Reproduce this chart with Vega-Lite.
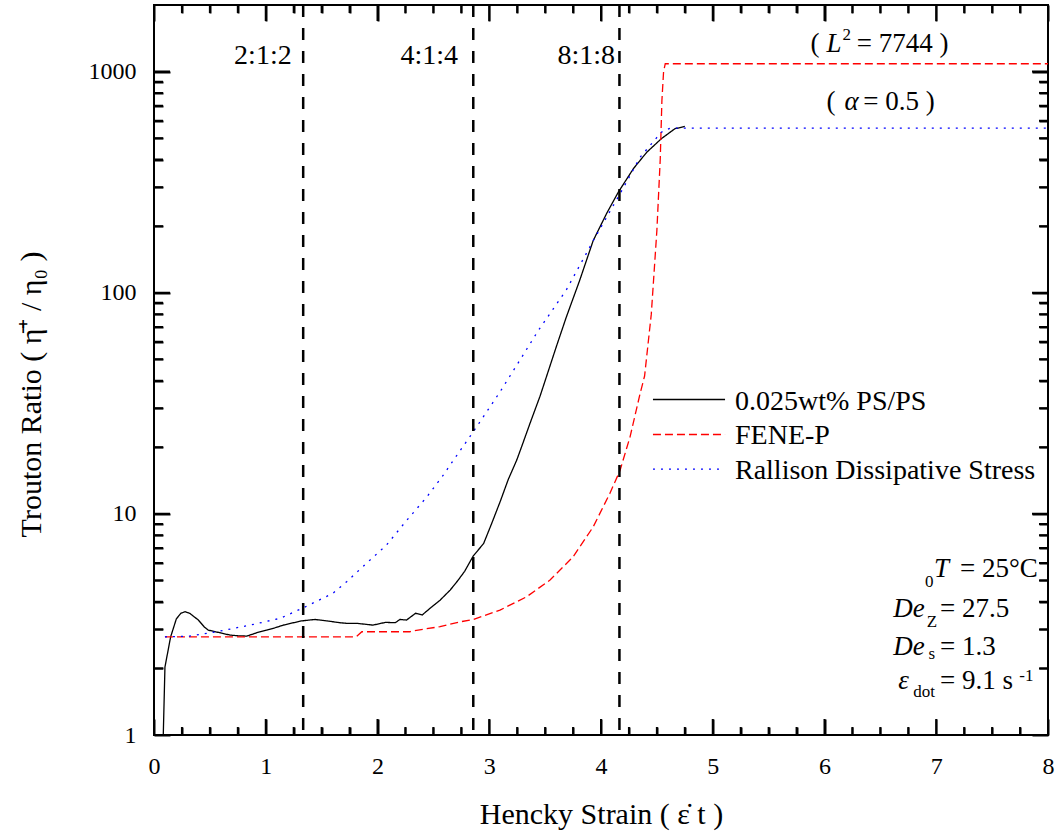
{
  "$schema": "https://vega.github.io/schema/vega-lite/v6.json",
  "width": 894,
  "height": 730,
  "autosize": "none",
  "padding": {"left": 154, "top": 5, "right": 9, "bottom": 103},
  "background": "white",
  "config": {"view": {"stroke": "black", "strokeWidth": 2}, "font": "Liberation Serif"},
  "datasets": {
    "series": [
      {"s": "0.025wt% PS/PS", "x": 0.083, "y": 1.0},
      {"s": "0.025wt% PS/PS", "x": 0.098, "y": 2.03},
      {"s": "0.025wt% PS/PS", "x": 0.149, "y": 2.78},
      {"s": "0.025wt% PS/PS", "x": 0.2, "y": 3.35},
      {"s": "0.025wt% PS/PS", "x": 0.24, "y": 3.55},
      {"s": "0.025wt% PS/PS", "x": 0.277, "y": 3.61},
      {"s": "0.025wt% PS/PS", "x": 0.32, "y": 3.55},
      {"s": "0.025wt% PS/PS", "x": 0.397, "y": 3.31},
      {"s": "0.025wt% PS/PS", "x": 0.45, "y": 3.08},
      {"s": "0.025wt% PS/PS", "x": 0.486, "y": 2.98},
      {"s": "0.025wt% PS/PS", "x": 0.59, "y": 2.9},
      {"s": "0.025wt% PS/PS", "x": 0.68, "y": 2.83},
      {"s": "0.025wt% PS/PS", "x": 0.75, "y": 2.81},
      {"s": "0.025wt% PS/PS", "x": 0.83, "y": 2.8},
      {"s": "0.025wt% PS/PS", "x": 0.92, "y": 2.9},
      {"s": "0.025wt% PS/PS", "x": 1.01, "y": 2.98},
      {"s": "0.025wt% PS/PS", "x": 1.08, "y": 3.05},
      {"s": "0.025wt% PS/PS", "x": 1.157, "y": 3.14},
      {"s": "0.025wt% PS/PS", "x": 1.25, "y": 3.22},
      {"s": "0.025wt% PS/PS", "x": 1.32, "y": 3.28},
      {"s": "0.025wt% PS/PS", "x": 1.44, "y": 3.33},
      {"s": "0.025wt% PS/PS", "x": 1.55, "y": 3.28},
      {"s": "0.025wt% PS/PS", "x": 1.66, "y": 3.22},
      {"s": "0.025wt% PS/PS", "x": 1.72, "y": 3.2},
      {"s": "0.025wt% PS/PS", "x": 1.81, "y": 3.2},
      {"s": "0.025wt% PS/PS", "x": 1.96, "y": 3.14},
      {"s": "0.025wt% PS/PS", "x": 2.07, "y": 3.23},
      {"s": "0.025wt% PS/PS", "x": 2.16, "y": 3.22},
      {"s": "0.025wt% PS/PS", "x": 2.2, "y": 3.33},
      {"s": "0.025wt% PS/PS", "x": 2.26, "y": 3.31},
      {"s": "0.025wt% PS/PS", "x": 2.34, "y": 3.55},
      {"s": "0.025wt% PS/PS", "x": 2.4, "y": 3.49},
      {"s": "0.025wt% PS/PS", "x": 2.47, "y": 3.74},
      {"s": "0.025wt% PS/PS", "x": 2.56, "y": 4.07},
      {"s": "0.025wt% PS/PS", "x": 2.65, "y": 4.52},
      {"s": "0.025wt% PS/PS", "x": 2.72, "y": 5.0},
      {"s": "0.025wt% PS/PS", "x": 2.78, "y": 5.5},
      {"s": "0.025wt% PS/PS", "x": 2.857, "y": 6.45},
      {"s": "0.025wt% PS/PS", "x": 2.95, "y": 7.35},
      {"s": "0.025wt% PS/PS", "x": 3.02, "y": 9.0},
      {"s": "0.025wt% PS/PS", "x": 3.096, "y": 11.3},
      {"s": "0.025wt% PS/PS", "x": 3.17, "y": 14.3},
      {"s": "0.025wt% PS/PS", "x": 3.246, "y": 17.5},
      {"s": "0.025wt% PS/PS", "x": 3.3, "y": 20.8},
      {"s": "0.025wt% PS/PS", "x": 3.364, "y": 25.6},
      {"s": "0.025wt% PS/PS", "x": 3.454, "y": 34.0},
      {"s": "0.025wt% PS/PS", "x": 3.5, "y": 40.0},
      {"s": "0.025wt% PS/PS", "x": 3.6, "y": 57},
      {"s": "0.025wt% PS/PS", "x": 3.69, "y": 77.7},
      {"s": "0.025wt% PS/PS", "x": 3.81, "y": 114},
      {"s": "0.025wt% PS/PS", "x": 3.93, "y": 172},
      {"s": "0.025wt% PS/PS", "x": 4.05, "y": 228},
      {"s": "0.025wt% PS/PS", "x": 4.155, "y": 285},
      {"s": "0.025wt% PS/PS", "x": 4.29, "y": 364},
      {"s": "0.025wt% PS/PS", "x": 4.41, "y": 432},
      {"s": "0.025wt% PS/PS", "x": 4.54, "y": 497},
      {"s": "0.025wt% PS/PS", "x": 4.66, "y": 551},
      {"s": "0.025wt% PS/PS", "x": 4.75, "y": 565},
      {"s": "FENE-P", "x": 0.098, "y": 2.78},
      {"s": "FENE-P", "x": 1.81, "y": 2.78},
      {"s": "FENE-P", "x": 1.86, "y": 2.93},
      {"s": "FENE-P", "x": 2.29, "y": 2.93},
      {"s": "FENE-P", "x": 2.32, "y": 2.96},
      {"s": "FENE-P", "x": 2.56, "y": 3.09},
      {"s": "FENE-P", "x": 2.74, "y": 3.25},
      {"s": "FENE-P", "x": 2.857, "y": 3.33},
      {"s": "FENE-P", "x": 3.096, "y": 3.67},
      {"s": "FENE-P", "x": 3.335, "y": 4.22},
      {"s": "FENE-P", "x": 3.544, "y": 5.02},
      {"s": "FENE-P", "x": 3.75, "y": 6.39},
      {"s": "FENE-P", "x": 3.93, "y": 8.73},
      {"s": "FENE-P", "x": 4.08, "y": 12.4},
      {"s": "FENE-P", "x": 4.17, "y": 15.7},
      {"s": "FENE-P", "x": 4.26, "y": 22.3},
      {"s": "FENE-P", "x": 4.35, "y": 35.0},
      {"s": "FENE-P", "x": 4.39, "y": 42},
      {"s": "FENE-P", "x": 4.45, "y": 80},
      {"s": "FENE-P", "x": 4.5, "y": 191},
      {"s": "FENE-P", "x": 4.53, "y": 400},
      {"s": "FENE-P", "x": 4.545, "y": 740},
      {"s": "FENE-P", "x": 4.56, "y": 1000},
      {"s": "FENE-P", "x": 4.575, "y": 1085},
      {"s": "FENE-P", "x": 8.0, "y": 1085},
      {"s": "Rallison Dissipative Stress", "x": 0.098, "y": 2.78},
      {"s": "Rallison Dissipative Stress", "x": 0.32, "y": 2.8},
      {"s": "Rallison Dissipative Stress", "x": 0.59, "y": 2.95},
      {"s": "Rallison Dissipative Stress", "x": 0.86, "y": 3.14},
      {"s": "Rallison Dissipative Stress", "x": 1.13, "y": 3.37},
      {"s": "Rallison Dissipative Stress", "x": 1.336, "y": 3.76},
      {"s": "Rallison Dissipative Stress", "x": 1.6, "y": 4.37},
      {"s": "Rallison Dissipative Stress", "x": 1.724, "y": 4.93},
      {"s": "Rallison Dissipative Stress", "x": 1.9, "y": 5.97},
      {"s": "Rallison Dissipative Stress", "x": 2.08, "y": 7.22},
      {"s": "Rallison Dissipative Stress", "x": 2.25, "y": 9.2},
      {"s": "Rallison Dissipative Stress", "x": 2.44, "y": 11.9},
      {"s": "Rallison Dissipative Stress", "x": 2.59, "y": 15.0},
      {"s": "Rallison Dissipative Stress", "x": 2.68, "y": 17.5},
      {"s": "Rallison Dissipative Stress", "x": 2.857, "y": 23.5},
      {"s": "Rallison Dissipative Stress", "x": 3.096, "y": 35.6},
      {"s": "Rallison Dissipative Stress", "x": 3.246, "y": 47},
      {"s": "Rallison Dissipative Stress", "x": 3.44, "y": 67.6},
      {"s": "Rallison Dissipative Stress", "x": 3.69, "y": 103},
      {"s": "Rallison Dissipative Stress", "x": 3.95, "y": 179},
      {"s": "Rallison Dissipative Stress", "x": 4.17, "y": 280},
      {"s": "Rallison Dissipative Stress", "x": 4.35, "y": 410},
      {"s": "Rallison Dissipative Stress", "x": 4.54, "y": 532},
      {"s": "Rallison Dissipative Stress", "x": 4.62, "y": 555},
      {"s": "Rallison Dissipative Stress", "x": 8.0, "y": 555}
    ],
    "legendlines": [
      {"s": "0.025wt% PS/PS", "x": 4.465, "y": 32.9},
      {"s": "0.025wt% PS/PS", "x": 5.11, "y": 32.9},
      {"s": "FENE-P", "x": 4.465, "y": 22.85},
      {"s": "FENE-P", "x": 5.11, "y": 22.85},
      {"s": "Rallison Dissipative Stress", "x": 4.465, "y": 15.92},
      {"s": "Rallison Dissipative Stress", "x": 5.11, "y": 15.92}
    ],
    "legendtext": [
      {"x": 5.199, "y": 29.6, "text": "0.025wt% PS/PS"},
      {"x": 5.199, "y": 20.6, "text": "FENE-P"},
      {"x": 5.199, "y": 14.35, "text": "Rallison Dissipative Stress"}
    ],
    "verticals": [
      {"x": 1.335, "kind": "divider"},
      {"x": 2.857, "kind": "divider"},
      {"x": 4.165, "kind": "divider"},
      {"x": 1, "kind": "major"}, {"x": 2, "kind": "major"}, {"x": 3, "kind": "major"}, {"x": 4, "kind": "major"},
      {"x": 5, "kind": "major"}, {"x": 6, "kind": "major"}, {"x": 7, "kind": "major"},
      {"x": 0.25, "kind": "minor"}, {"x": 0.5, "kind": "minor"}, {"x": 0.75, "kind": "minor"},
      {"x": 1.25, "kind": "minor"}, {"x": 1.5, "kind": "minor"}, {"x": 1.75, "kind": "minor"},
      {"x": 2.25, "kind": "minor"}, {"x": 2.5, "kind": "minor"}, {"x": 2.75, "kind": "minor"},
      {"x": 3.25, "kind": "minor"}, {"x": 3.5, "kind": "minor"}, {"x": 3.75, "kind": "minor"},
      {"x": 4.25, "kind": "minor"}, {"x": 4.5, "kind": "minor"}, {"x": 4.75, "kind": "minor"},
      {"x": 5.25, "kind": "minor"}, {"x": 5.5, "kind": "minor"}, {"x": 5.75, "kind": "minor"},
      {"x": 6.25, "kind": "minor"}, {"x": 6.5, "kind": "minor"}, {"x": 6.75, "kind": "minor"},
      {"x": 7.25, "kind": "minor"}, {"x": 7.5, "kind": "minor"}, {"x": 7.75, "kind": "minor"}
    ],
    "horizontals": [
      {"y": 10, "kind": "major"}, {"y": 100, "kind": "major"}, {"y": 1000, "kind": "major"},
      {"y": 2, "kind": "minor"}, {"y": 3, "kind": "minor"}, {"y": 4, "kind": "minor"}, {"y": 5, "kind": "minor"},
      {"y": 6, "kind": "minor"}, {"y": 7, "kind": "minor"}, {"y": 8, "kind": "minor"}, {"y": 9, "kind": "minor"},
      {"y": 20, "kind": "minor"}, {"y": 30, "kind": "minor"}, {"y": 40, "kind": "minor"}, {"y": 50, "kind": "minor"},
      {"y": 60, "kind": "minor"}, {"y": 70, "kind": "minor"}, {"y": 80, "kind": "minor"}, {"y": 90, "kind": "minor"},
      {"y": 200, "kind": "minor"}, {"y": 300, "kind": "minor"}, {"y": 400, "kind": "minor"}, {"y": 500, "kind": "minor"},
      {"y": 600, "kind": "minor"}, {"y": 700, "kind": "minor"}, {"y": 800, "kind": "minor"}, {"y": 900, "kind": "minor"}
    ],
    "ratios": [
      {"x": 1.232, "y": 1077, "text": "2:1:2"},
      {"x": 2.72, "y": 1077, "text": "4:1:4"},
      {"x": 4.125, "y": 1077, "text": "8:1:8"}
    ],
    "notes": [
      {"x": 5.875, "y": 1224, "text": "(", "style": "roman"},
      {"x": 6.018, "y": 1224, "text": "L", "style": "italic"},
      {"x": 6.16, "y": 1382, "text": "2", "style": "small"},
      {"x": 6.288, "y": 1224, "text": "= 7744 )", "style": "roman"},
      {"x": 6.018, "y": 667, "text": "(", "style": "roman"},
      {"x": 6.18, "y": 667, "text": "α", "style": "italic"},
      {"x": 6.347, "y": 667, "text": "= 0.5 )", "style": "roman"},
      {"x": 6.98, "y": 5.17, "text": "T", "style": "italic"},
      {"x": 6.9, "y": 4.66, "text": "0", "style": "small"},
      {"x": 7.212, "y": 5.17, "text": "= 25°C", "style": "roman"},
      {"x": 6.616, "y": 3.41, "text": "De", "style": "italic"},
      {"x": 6.915, "y": 3.08, "text": "Z", "style": "small"},
      {"x": 7.034, "y": 3.41, "text": "= 27.5", "style": "roman"},
      {"x": 6.616, "y": 2.3, "text": "De", "style": "italic"},
      {"x": 6.93, "y": 2.2, "text": "s", "style": "small"},
      {"x": 7.034, "y": 2.3, "text": "= 1.3", "style": "roman"},
      {"x": 6.66, "y": 1.614, "text": "ε", "style": "italic"},
      {"x": 6.795, "y": 1.485, "text": "dot", "style": "small"},
      {"x": 7.034, "y": 1.614, "text": "= 9.1 s", "style": "roman"},
      {"x": 7.743, "y": 1.754, "text": "-1", "style": "small"}
    ]
  },
  "layer": [
    {
      "data": {"name": "series"},
      "mark": {"type": "line", "strokeWidth": 1.3, "clip": true},
      "encoding": {
        "x": {
          "field": "x", "type": "quantitative",
          "scale": {"domain": [0, 8], "nice": false, "zero": false},
          "axis": {
            "orient": "bottom",
            "values": [0,0.25,0.5,0.75,1,1.25,1.5,1.75,2,2.25,2.5,2.75,3,3.25,3.5,3.75,4,4.25,4.5,4.75,5,5.25,5.5,5.75,6,6.25,6.5,6.75,7,7.25,7.5,7.75,8],
            "labelExpr": "datum.value % 1 === 0 ? format(datum.value, 'd') : ''",
            "ticks": false, "domain": false,
            "grid": true, "gridColor": "black", "gridWidth": 2, "gridOpacity": 1,
            "gridDash": {"condition": {"test": "datum.value % 1 === 0", "value": [16, 698]}, "value": [8, 714]},
            "labelFont": "Liberation Serif", "labelFontSize": 24, "labelColor": "black",
            "labelPadding": 19, "labelOverlap": false, "labelFlush": false,
            "title": "Hencky Strain ( ε̇ t )",
            "titleFont": "Liberation Serif", "titleFontSize": 30, "titleFontWeight": "normal", "titleColor": "black",
            "titleBaseline": "alphabetic", "titleY": 88
          }
        },
        "y": {
          "field": "y", "type": "quantitative",
          "scale": {"type": "log", "domain": [1, 2000], "nice": false},
          "axis": {
            "orient": "left",
            "values": [1,2,3,4,5,6,7,8,9,10,20,30,40,50,60,70,80,90,100,200,300,400,500,600,700,800,900,1000],
            "labelExpr": "indexof([1,10,100,1000], datum.value) >= 0 ? format(datum.value, 'd') : ''",
            "ticks": false, "domain": false,
            "grid": true, "gridColor": "black", "gridWidth": 2, "gridOpacity": 1,
            "gridDash": {"condition": {"test": "indexof([1,10,100,1000], datum.value) >= 0", "value": [16, 862]}, "value": [9, 876]},
            "labelFont": "Liberation Serif", "labelFontSize": 24, "labelColor": "black",
            "labelPadding": 18, "labelOverlap": false, "labelFlush": false,
            "title": "Trouton Ratio ( η̄⁺ / η₀ )",
            "titleFont": "Liberation Serif", "titleFontSize": 30, "titleFontWeight": "normal", "titleColor": "black",
            "titleAngle": -90, "titleBaseline": "alphabetic", "titleX": -114, "titleY": 389, "titleAlign": "center"
          }
        },
        "color": {
          "field": "s", "type": "nominal",
          "scale": {"domain": ["0.025wt% PS/PS", "FENE-P", "Rallison Dissipative Stress"], "range": ["#000000", "#ff0000", "#0000ff"]},
          "legend": null
        },
        "strokeDash": {
          "field": "s", "type": "nominal",
          "scale": {"domain": ["0.025wt% PS/PS", "FENE-P", "Rallison Dissipative Stress"], "range": [[1, 0], [8, 4], [2, 6]]},
          "legend": null
        }
      }
    },
    {
      "data": {"name": "verticals"},
      "transform": [{"filter": "datum.kind === 'major'"}],
      "mark": {"type": "rule", "strokeDash": [16, 698], "strokeWidth": 2, "color": "black"},
      "encoding": {"x": {"field": "x", "type": "quantitative", "axis": null}}
    },
    {
      "data": {"name": "verticals"},
      "transform": [{"filter": "datum.kind === 'minor'"}],
      "mark": {"type": "rule", "strokeDash": [8, 714], "strokeWidth": 2, "color": "black"},
      "encoding": {"x": {"field": "x", "type": "quantitative", "axis": null}}
    },
    {
      "data": {"name": "horizontals"},
      "transform": [{"filter": "datum.kind === 'major'"}],
      "mark": {"type": "rule", "strokeDash": [16, 862], "strokeWidth": 2, "color": "black"},
      "encoding": {"y": {"field": "y", "type": "quantitative", "axis": null}}
    },
    {
      "data": {"name": "horizontals"},
      "transform": [{"filter": "datum.kind === 'minor'"}],
      "mark": {"type": "rule", "strokeDash": [9, 876], "strokeWidth": 2, "color": "black"},
      "encoding": {"y": {"field": "y", "type": "quantitative", "axis": null}}
    },
    {
      "data": {"name": "verticals"},
      "transform": [{"filter": "datum.kind === 'divider'"}],
      "mark": {"type": "rule", "strokeDash": [12, 11], "strokeWidth": 2.5, "color": "black"},
      "encoding": {"x": {"field": "x", "type": "quantitative", "axis": null}}
    },
    {
      "data": {"name": "ratios"},
      "mark": {"type": "text", "align": "right", "baseline": "alphabetic", "font": "Liberation Serif", "fontSize": 28, "color": "black"},
      "encoding": {
        "x": {"field": "x", "type": "quantitative", "axis": null},
        "y": {"field": "y", "type": "quantitative", "axis": null},
        "text": {"field": "text"}
      }
    },
    {
      "data": {"name": "notes"},
      "transform": [{"filter": "datum.style === 'roman'"}],
      "mark": {"type": "text", "align": "left", "baseline": "alphabetic", "font": "Liberation Serif", "fontSize": 27, "color": "black"},
      "encoding": {
        "x": {"field": "x", "type": "quantitative", "axis": null},
        "y": {"field": "y", "type": "quantitative", "axis": null},
        "text": {"field": "text"}
      }
    },
    {
      "data": {"name": "notes"},
      "transform": [{"filter": "datum.style === 'italic'"}],
      "mark": {"type": "text", "align": "left", "baseline": "alphabetic", "font": "Liberation Serif", "fontStyle": "italic", "fontSize": 27, "color": "black"},
      "encoding": {
        "x": {"field": "x", "type": "quantitative", "axis": null},
        "y": {"field": "y", "type": "quantitative", "axis": null},
        "text": {"field": "text"}
      }
    },
    {
      "data": {"name": "notes"},
      "transform": [{"filter": "datum.style === 'small'"}],
      "mark": {"type": "text", "align": "left", "baseline": "alphabetic", "font": "Liberation Serif", "fontSize": 17, "color": "black"},
      "encoding": {
        "x": {"field": "x", "type": "quantitative", "axis": null},
        "y": {"field": "y", "type": "quantitative", "axis": null},
        "text": {"field": "text"}
      }
    },
    {
      "data": {"name": "legendlines"},
      "mark": {"type": "line", "strokeWidth": 1.3},
      "encoding": {
        "x": {"field": "x", "type": "quantitative", "axis": null},
        "y": {"field": "y", "type": "quantitative", "axis": null},
        "color": {"field": "s", "type": "nominal", "legend": null},
        "strokeDash": {"field": "s", "type": "nominal", "legend": null}
      }
    },
    {
      "data": {"name": "legendtext"},
      "mark": {"type": "text", "align": "left", "baseline": "alphabetic", "font": "Liberation Serif", "fontSize": 28, "color": "black"},
      "encoding": {
        "x": {"field": "x", "type": "quantitative", "axis": null},
        "y": {"field": "y", "type": "quantitative", "axis": null},
        "text": {"field": "text"}
      }
    }
  ],
  "resolve": {"axis": {"x": "independent", "y": "independent"}}
}
